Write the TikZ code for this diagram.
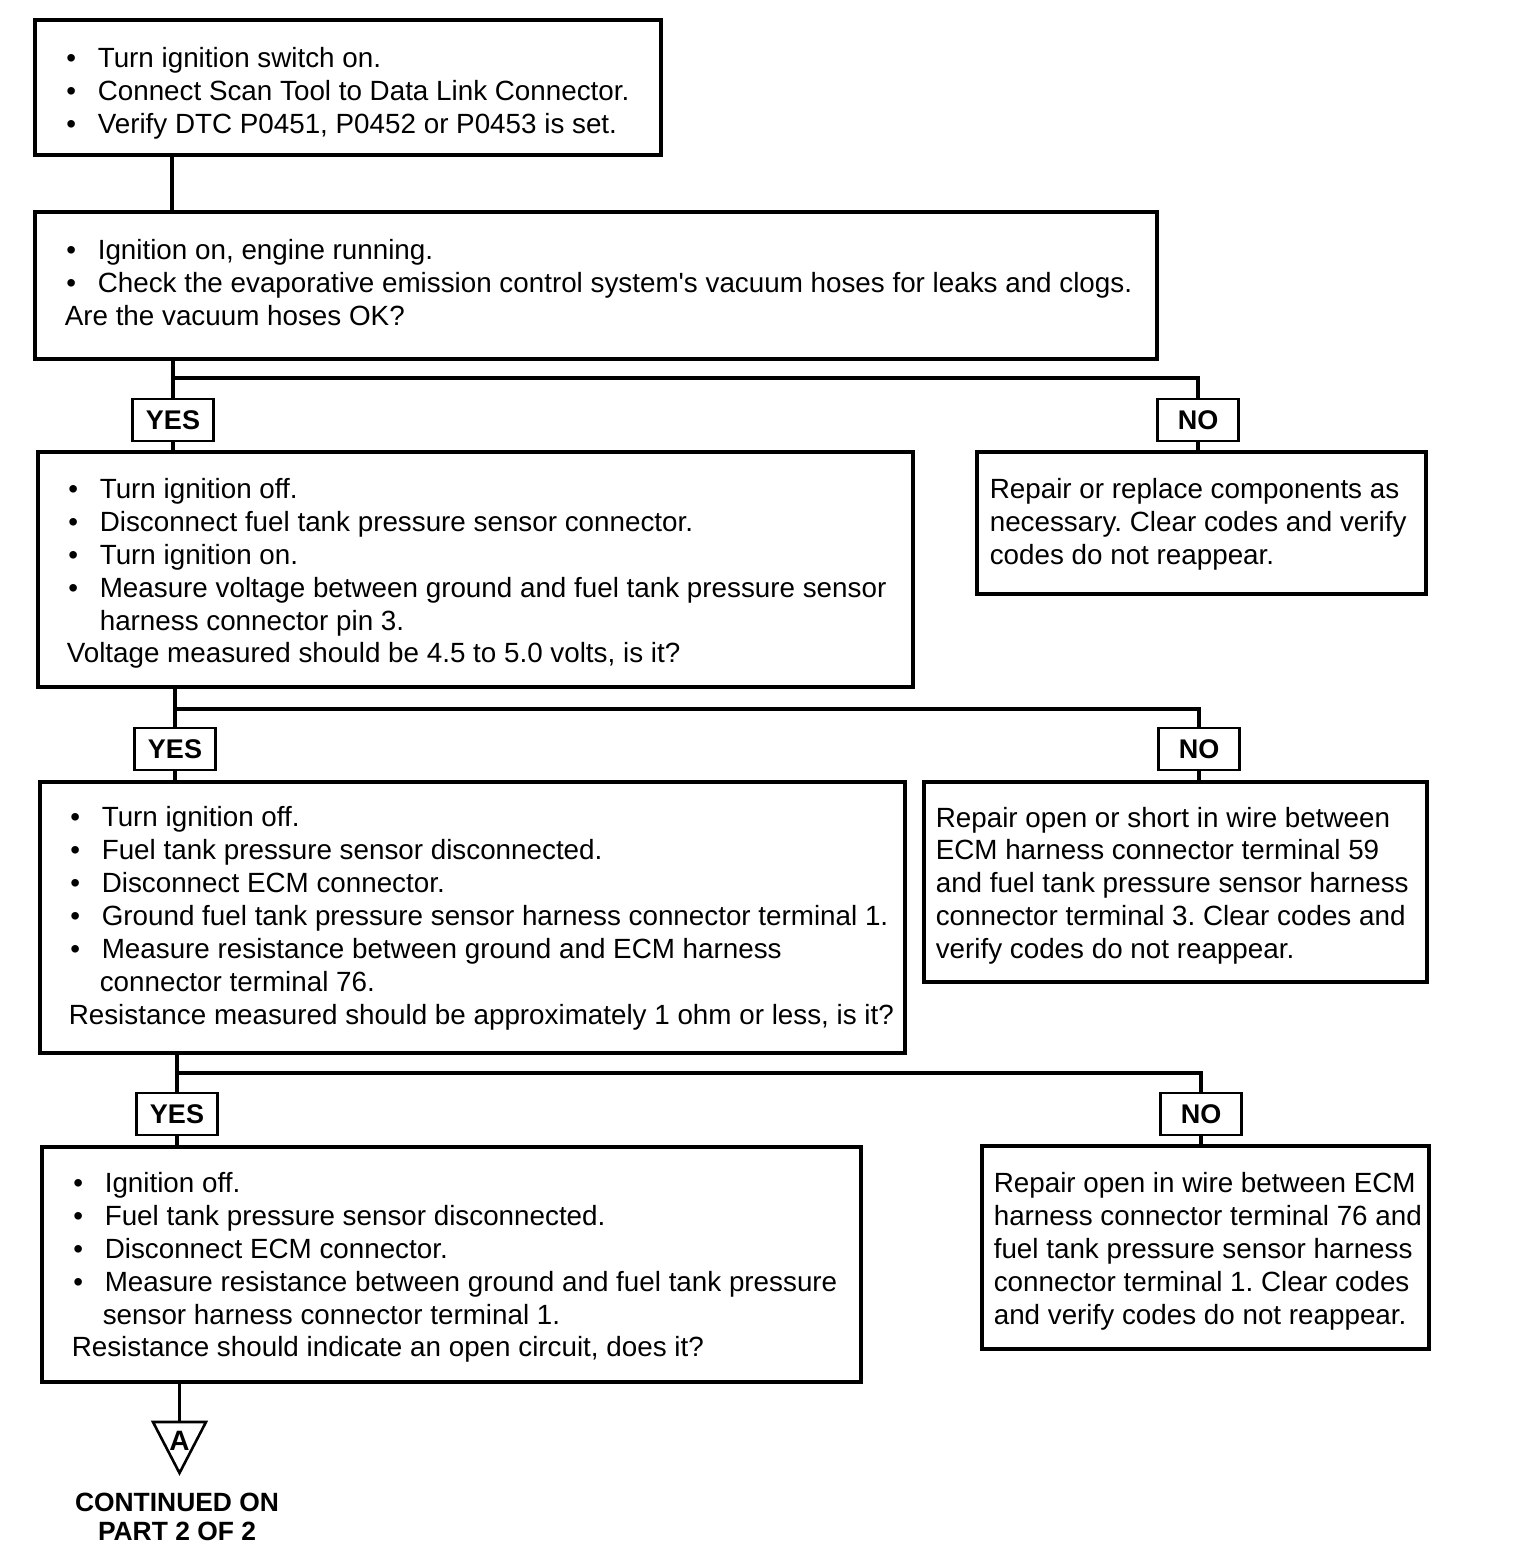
\documentclass[tikz,border=0pt]{standalone}
\usepackage{fontspec}
\setmainfont{Liberation Sans}
\frenchspacing
\newcommand\bl[1]{\makebox[16.5pt][l]{\hspace{0.8pt}\textbullet}#1}
\newcommand\hg[1]{\hspace*{16.5pt}#1}
\tikzset{
  box/.style={draw, line width=1.6pt, inner sep=0pt},
  txt/.style={anchor=west, align=left, inner sep=0pt, font=\fontsize{13.9}{16.45}\selectfont},
  lab/.style={draw, line width=1.3pt, minimum width=40.5pt, minimum height=21pt, inner sep=0pt, font=\bfseries\fontsize{13.5}{15}\selectfont},
  conn/.style={line width=1.6pt},
}
\begin{document}
\begin{tikzpicture}[x=0.5pt,y=-0.5pt]
\useasboundingbox (0,0) rectangle (1520,1564);
% boxes
\node[box, minimum width=313pt, minimum height=67.5pt] (b1) at (348,87.5) {};
\node[box, minimum width=561pt, minimum height=73.5pt] (b2) at (596,285.5) {};
\node[box, minimum width=437.5pt, minimum height=117.5pt] (b3) at (475.5,569.5) {};
\node[box, minimum width=224.5pt, minimum height=71pt] (b4) at (1201.5,523) {};
\node[box, minimum width=432.5pt, minimum height=135.5pt] (b5) at (472.5,917.5) {};
\node[box, minimum width=251.5pt, minimum height=100pt] (b6) at (1175.5,882) {};
\node[box, minimum width=409.5pt, minimum height=117.5pt] (b7) at (451.5,1264.5) {};
\node[box, minimum width=223.5pt, minimum height=101.5pt] (b8) at (1205.5,1247.5) {};
% labels
\node[lab] (y1) at (173,420) {YES};
\node[lab] (n1) at (1198,420) {NO};
\node[lab] (y2) at (175,749) {YES};
\node[lab] (n2) at (1199,749) {NO};
\node[lab] (y3) at (177,1114) {YES};
\node[lab] (n3) at (1201,1114) {NO};
% texts
\node[txt] (t1) at ([xshift=15.5pt,yshift=-3pt]b1.west) {\bl{Turn ignition switch on.}\\\bl{Connect Scan Tool to Data Link Connector.}\\\bl{Verify DTC P0451, P0452 or P0453 is set.}};
\node[txt] (t2) at ([xshift=15.5pt,yshift=1.5pt]b2.west) {\bl{Ignition on, engine running.}\\\bl{Check the evaporative emission control system\textquotesingle s vacuum hoses for leaks and clogs.}\\Are the vacuum hoses OK?};
\node[txt] (t3) at ([xshift=15pt,yshift=-2pt]b3.west) {\bl{Turn ignition off.}\\\bl{Disconnect fuel tank pressure sensor connector.}\\\bl{Turn ignition on.}\\\bl{Measure voltage between ground and fuel tank pressure sensor}\\\hg{harness connector pin 3.}\\Voltage measured should be 4.5 to 5.0 volts, is it?};
\node[txt] (t4) at ([xshift=7pt,yshift=-0.5pt]b4.west) {Repair or replace components as\\necessary. Clear codes and verify\\codes do not reappear.};
\node[txt] (t5) at ([xshift=15pt,yshift=-0.3pt]b5.west) {\bl{Turn ignition off.}\\\bl{Fuel tank pressure sensor disconnected.}\\\bl{Disconnect ECM connector.}\\\bl{Ground fuel tank pressure sensor harness connector terminal 1.}\\\bl{Measure resistance between ground and ECM harness}\\\hspace*{15.5pt}connector terminal 76.\\Resistance measured should be approximately 1 ohm or less, is it?};
\node[txt] (t6) at ([xshift=6.5pt,yshift=-1.8pt]b6.west) {Repair open or short in wire between\\ECM harness connector terminal 59\\and fuel tank pressure sensor harness\\connector terminal 3. Clear codes and\\verify codes do not reappear.};
\node[txt] (t7) at ([xshift=15.5pt,yshift=-1.5pt]b7.west) {\bl{Ignition off.}\\\bl{Fuel tank pressure sensor disconnected.}\\\bl{Disconnect ECM connector.}\\\bl{Measure resistance between ground and fuel tank pressure}\\\hspace*{15.5pt}sensor harness connector terminal 1.\\Resistance should indicate an open circuit, does it?};
\node[txt] (t8) at ([xshift=6.5pt,yshift=-1.8pt]b8.west) {Repair open in wire between ECM\\harness connector terminal 76 and\\fuel tank pressure sensor harness\\connector terminal 1. Clear codes\\and verify codes do not reappear.};
% junctions
\coordinate (j1) at (173,378);
\coordinate (j2) at (175,709);
\coordinate (j3) at (177,1073);
% connectors
\draw[conn] (b1.south -| 172,0) -- (b2.north -| 172,0);
\draw[conn] (b2.south -| y1) -- (y1.north);
\draw[conn] (j1) -| (n1.north);
\draw[conn] (y1.south) -- (b3.north -| y1);
\draw[conn] (n1.south) -- (b4.north -| n1);
\draw[conn] (b3.south -| y2) -- (y2.north);
\draw[conn] (j2) -| (n2.north);
\draw[conn] (y2.south) -- (b5.north -| y2);
\draw[conn] (n2.south) -- (b6.north -| n2);
\draw[conn] (b5.south -| y3) -- (y3.north);
\draw[conn] (j3) -| (n3.north);
\draw[conn] (y3.south) -- (b7.north -| y3);
\draw[conn] (n3.south) -- (b8.north -| n3);
% off-page connector
\coordinate (tl) at (153,1422);
\coordinate (tr) at (206,1422);
\coordinate (tb) at (179.5,1473);
\coordinate (tt) at (179.5,1422);
\draw[conn] (b7.south -| tt) -- (tt);
\draw[line width=1.3pt, line join=miter] (tl) -- (tr) -- (tb) -- cycle;
\node[inner sep=0pt, font=\bfseries\fontsize{14}{15}\selectfont] (A) at (179.5,1441) {A};
\node[align=center, inner sep=0pt, font=\bfseries\fontsize{13.2}{14.5}\selectfont] (cont) at (177,1517) {CONTINUED ON\\PART 2 OF 2};
\end{tikzpicture}
\end{document}
